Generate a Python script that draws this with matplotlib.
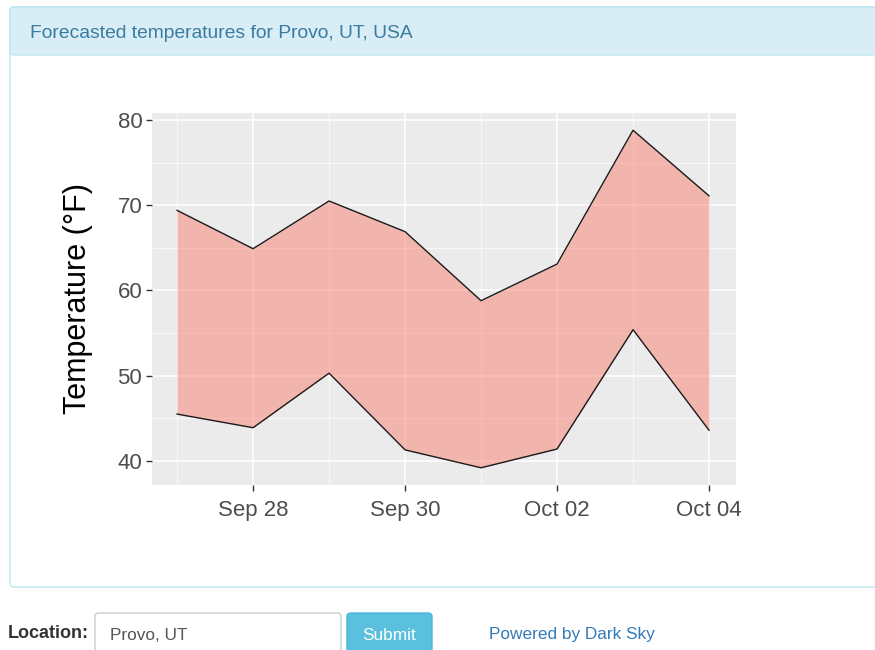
import numpy as np
import matplotlib
matplotlib.use("Agg")
import matplotlib.pyplot as plt
import matplotlib.dates as mdates
from matplotlib.patches import FancyBboxPatch
from matplotlib.ticker import MultipleLocator, FixedLocator

plt.rcParams['font.family'] = ['Liberation Sans', 'DejaVu Sans']

# data
days = np.array(['2018-09-27', '2018-09-28', '2018-09-29', '2018-09-30',
                 '2018-10-01', '2018-10-02', '2018-10-03', '2018-10-04'],
                dtype='datetime64[D]')
temp_high = [69.4, 64.9, 70.5, 66.9, 58.8, 63.1, 78.8, 71.1]
temp_low = [45.5, 43.9, 50.3, 41.3, 39.2, 41.4, 55.4, 43.6]
y_ticks = [40, 50, 60, 70, 80]

title = "Forecasted temperatures for Provo, UT, USA"
location = "Provo, UT"

W, H = 875, 650
fig = plt.figure(figsize=(W / 100, H / 100), dpi=100)


def box(x0, y0, x1, y1, **kw):
    # pixel box (top-left origin) -> figure patch
    p = FancyBboxPatch((x0 / W, 1 - y1 / H), (x1 - x0) / W, (y1 - y0) / H,
                       boxstyle="round,pad=0,rounding_size=0.005",
                       transform=fig.transFigure, zorder=-1, **kw)
    fig.patches.append(p)


def txt(x, y, s, **kw):
    fig.text(x / W, 1 - y / H, s, va='center', **kw)


# panel around the chart
box(10, 7, 895, 587, facecolor='white', edgecolor='#bce8f1', linewidth=1)
box(10, 7, 895, 55, facecolor='#d9edf7', edgecolor='#bce8f1', linewidth=1)
txt(30, 33, title, fontsize=13.9, color='#3a7ca0')

# form below
txt(8, 633, "Location:", fontsize=13, fontweight='bold', color='#333333')
box(95, 613, 341, 670, facecolor='white', edgecolor='#cccccc', linewidth=1)
txt(110, 635, location, fontsize=12.4, color='#555555')
box(347, 613, 432, 670, facecolor='#5bc0de', edgecolor='#46b8da', linewidth=1)
txt(389.5, 635, "Submit", fontsize=12.4, color='white', ha='center')
txt(489, 635, "Powered by Dark Sky", fontsize=12.4, color='#337ab7')

# ggplot-like chart
ax = fig.add_axes([152 / W, 1 - 485 / H, (736 - 152) / W, (485 - 113) / H])
ax.set_zorder(5)
ax.set_facecolor('#ebebeb')
for s in ax.spines.values():
    s.set_visible(False)

x = mdates.date2num(days)
ax.fill_between(x, temp_low, temp_high, color='salmon', alpha=0.5,
                linewidth=0, zorder=3)
ax.plot(x, temp_high, color='#1a1a1a', linewidth=1.0, zorder=4)
ax.plot(x, temp_low, color='#1a1a1a', linewidth=1.0, zorder=4)

ax.set_xlim(x[0] - 0.33, x[-1] + 0.355)
ax.set_ylim(37.18, 80.82)

ax.xaxis.set_major_locator(FixedLocator(x[1::2]))
ax.xaxis.set_minor_locator(FixedLocator(x[0::2]))
ax.xaxis.set_major_formatter(mdates.DateFormatter('%b %d'))
ax.set_yticks(y_ticks)
ax.yaxis.set_minor_locator(MultipleLocator(5))

ax.grid(which='major', color='white', linewidth=1.1, zorder=1)
ax.grid(which='minor', color='white', linewidth=0.5, zorder=1)
ax.set_axisbelow(True)

ax.tick_params(which='major', length=4, width=1, color='#333333',
               labelsize=16, labelcolor='#4d4d4d', pad=3)
ax.tick_params(axis='x', which='major', pad=7)
ax.tick_params(which='minor', length=0)

ax.set_ylabel("Temperature (°F)", fontsize=22, color='black', labelpad=18)

fig.savefig("out.png", dpi=100)
